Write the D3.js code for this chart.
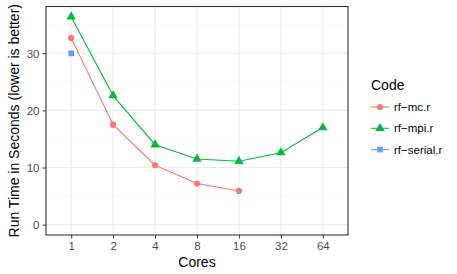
<!DOCTYPE html>
<html>
<head>
<meta charset="utf-8">
<script src="https://cdn.jsdelivr.net/npm/d3@7"></script>
<style>
  body { margin: 0; background: #fff; }
  text { font-family: "Liberation Sans", Arial, sans-serif; }
</style>
</head>
<body>
<script>
// data
var cores = ["1", "2", "4", "8", "16", "32", "64"];
var mcTimes = [32.7, 17.5, 10.4, 7.2, 5.9];
var mpiTimes = [36.4, 22.6, 14.0, 11.5, 11.1, 12.6, 17.0];
var serialTimes = [30.0];
var yTicks = [0, 10, 20, 30];
var yMinor = [5, 15, 25, 35];

var series = [
  { name: "rf\u2212mc.r", values: mcTimes, color: "#F8766D", shape: "circle" },
  { name: "rf\u2212mpi.r", values: mpiTimes, color: "#00BA38", shape: "triangle" },
  { name: "rf\u2212serial.r", values: serialTimes, color: "#619CFF", shape: "square" }
];

var width = 457, height = 274;
var panel = { left: 46, right: 348, top: 6.5, bottom: 235 };

var svg = d3.select("body").append("svg")
  .attr("width", width)
  .attr("height", height);

// scales
var x = d3.scalePoint()
  .domain(cores)
  .range([panel.left, panel.right])
  .padding(0.6);

var y = d3.scaleLinear()
  .domain([-1.82, 38.2])
  .range([panel.bottom, panel.top]);

// grid lines
var grid = svg.append("g");
grid.selectAll(".minor")
  .data(yMinor)
  .enter().append("line")
  .attr("x1", panel.left).attr("x2", panel.right)
  .attr("y1", function (d) { return y(d); })
  .attr("y2", function (d) { return y(d); })
  .attr("stroke", "#F5F5F5")
  .attr("stroke-width", 0.55);
grid.selectAll(".majorY")
  .data(yTicks)
  .enter().append("line")
  .attr("x1", panel.left).attr("x2", panel.right)
  .attr("y1", function (d) { return y(d); })
  .attr("y2", function (d) { return y(d); })
  .attr("stroke", "#EBEBEB")
  .attr("stroke-width", 1.1);
grid.selectAll(".majorX")
  .data(cores)
  .enter().append("line")
  .attr("x1", function (d) { return x(d); })
  .attr("x2", function (d) { return x(d); })
  .attr("y1", panel.top).attr("y2", panel.bottom)
  .attr("stroke", "#EBEBEB")
  .attr("stroke-width", 1.1);

// axes
var xAxis = svg.append("g")
  .attr("transform", "translate(0," + panel.bottom + ")")
  .call(d3.axisBottom(x).tickSizeInner(3.5).tickSizeOuter(0).tickPadding(3));
var yAxis = svg.append("g")
  .attr("transform", "translate(" + panel.left + ",0)")
  .call(d3.axisLeft(y).tickValues(yTicks).tickSizeInner(3.5).tickSizeOuter(0).tickPadding(3));

[xAxis, yAxis].forEach(function (ax) {
  ax.select(".domain").remove();
  ax.selectAll(".tick line").attr("stroke", "#333333").attr("stroke-width", 1);
  ax.selectAll(".tick text")
    .attr("fill", "#4D4D4D")
    .style("font-size", "11.5px")
    .style("font-family", "'Liberation Sans', Arial, sans-serif");
});

// lines and points
var line = d3.line()
  .x(function (d, i) { return x(cores[i]); })
  .y(function (d) { return y(d); });

var shapes = {
  circle: d3.symbol().type(d3.symbolCircle).size(30),
  triangle: d3.symbol().type(d3.symbolTriangle).size(38),
  square: d3.symbol().type(d3.symbolSquare).size(32)
};

var plot = svg.append("g");
series.forEach(function (s) {
  plot.append("path")
    .datum(s.values)
    .attr("d", line)
    .attr("fill", "none")
    .attr("stroke", s.color)
    .attr("stroke-width", 1.1);
  plot.selectAll(null)
    .data(s.values)
    .enter().append("path")
    .attr("transform", function (d, i) {
      return "translate(" + x(cores[i]) + "," + y(d) + ")";
    })
    .attr("d", shapes[s.shape])
    .attr("fill", s.color);
});

// panel border
svg.append("rect")
  .attr("x", panel.left).attr("y", panel.top)
  .attr("width", panel.right - panel.left)
  .attr("height", panel.bottom - panel.top)
  .attr("fill", "none")
  .attr("stroke", "#333333")
  .attr("stroke-width", 1.1);

// axis titles
svg.append("text")
  .attr("x", (panel.left + panel.right) / 2)
  .attr("y", 267)
  .attr("text-anchor", "middle")
  .style("font-size", "14px")
  .text("Cores");

svg.append("text")
  .attr("transform", "translate(19," + ((panel.top + panel.bottom) / 2) + ") rotate(-90)")
  .attr("text-anchor", "middle")
  .style("font-size", "14px")
  .text("Run Time in Seconds (lower is better)");

// legend
var legend = svg.append("g").attr("transform", "translate(371,0)");
legend.append("text")
  .attr("x", 0).attr("y", 90)
  .style("font-size", "14px")
  .text("Code");

var rows = legend.selectAll(".row")
  .data(series)
  .enter().append("g")
  .attr("transform", function (d, i) { return "translate(0," + (107 + i * 21.3) + ")"; });
rows.append("line")
  .attr("x1", 0).attr("x2", 18)
  .attr("stroke", function (d) { return d.color; })
  .attr("stroke-width", 1.1);
rows.append("path")
  .attr("transform", "translate(9,0)")
  .attr("d", function (d) { return shapes[d.shape](); })
  .attr("fill", function (d) { return d.color; });
rows.append("text")
  .attr("x", 23).attr("y", 4)
  .style("font-size", "11.5px")
  .attr("fill", "#000")
  .text(function (d) { return d.name; });
</script>
</body>
</html>
